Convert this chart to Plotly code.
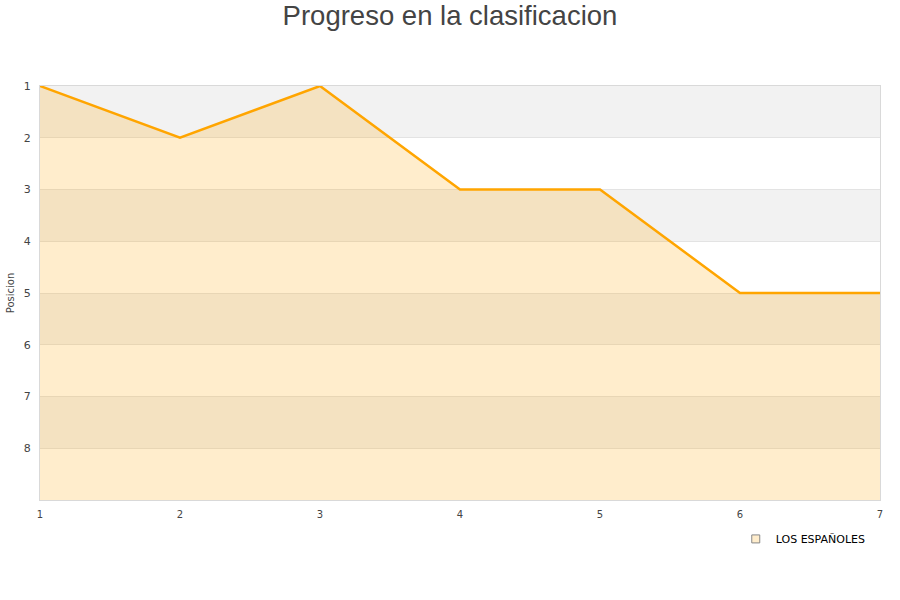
import plotly.graph_objects as go

jornadas = [1, 2, 3, 4, 5, 6, 7]
posiciones = [1, 2, 1, 3, 3, 5, 5]
equipo = "LOS ESPAÑOLES"
y_ticks = [1, 2, 3, 4, 5, 6, 7, 8]
y_min, y_max = 1, 9

fig = go.Figure()
# baseline for filling down to the bottom of the reversed axis
fig.add_trace(go.Scatter(x=jornadas, y=[y_max] * len(jornadas), mode="lines",
                         line=dict(width=0, color="rgba(0,0,0,0)"),
                         showlegend=False, hoverinfo="skip"))
fig.add_trace(go.Scatter(x=jornadas, y=posiciones, mode="lines", fill="tonexty",
                         fillcolor="rgba(255,165,0,0.2)",
                         line=dict(color="#FFA500", width=2.5),
                         name=equipo, showlegend=False))
# legend entry
fig.add_trace(go.Scatter(x=[None], y=[None], mode="markers", name=equipo,
                         marker=dict(symbol="square", size=8, color="#FFEDCC",
                                     line=dict(color="#888", width=1))))

shapes = []
for k in range(y_min, y_max, 2):
    shapes.append(dict(type="rect", xref="x domain", yref="y", x0=0, x1=1,
                       y0=k, y1=k + 1, fillcolor="#f2f2f2", line=dict(width=0),
                       layer="below"))

fig.update_layout(
    width=900, height=600,
    title=dict(text="Progreso en la clasificacion", x=0.5, xanchor="center",
               y=0.975, yanchor="middle",
               font=dict(family="Liberation Sans, Arial", size=27.5, color="#444")),
    margin=dict(l=40, r=20, t=86, b=100, autoexpand=False),
    plot_bgcolor="white", paper_bgcolor="white",
    shapes=shapes,
    showlegend=True,
    legend=dict(x=0.989, y=-0.094, xanchor="right", yanchor="middle",
                font=dict(family="DejaVu Sans", size=11, color="#000"),
                bgcolor="rgba(0,0,0,0)"),
    font=dict(family="DejaVu Sans", size=11, color="#444"),
)
fig.update_xaxes(range=[1, 7], tickvals=jornadas, showgrid=False, zeroline=False,
                 showline=True, linecolor="#d9d9d9", linewidth=1, mirror=True,
                 ticks="", automargin=False, ticklabelstandoff=5,
                 tickfont=dict(size=10, color="#444"))
fig.update_yaxes(range=[y_max, y_min], tickvals=y_ticks, showgrid=True,
                 gridcolor="#e3e3e3", zeroline=False, showline=True,
                 linecolor="#d9d9d9", linewidth=1, mirror=True, ticks="",
                 ticklabelstandoff=6, automargin=False,
                 title=dict(text="Posicion", font=dict(size=10, color="#444"), standoff=7),
                 tickfont=dict(size=11, color="#444"))

fig.write_html("out.html", config={"displayModeBar": False},
               post_script="document.body.style.margin='0';")
